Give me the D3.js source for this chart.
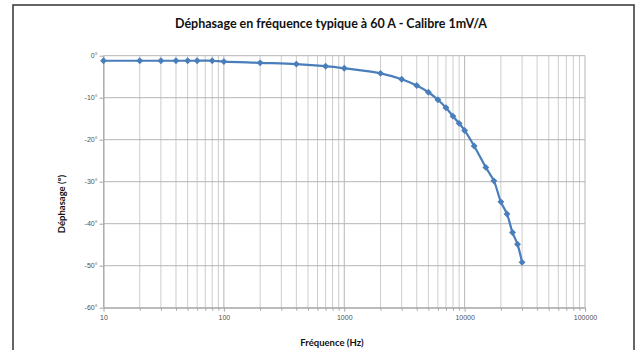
<!DOCTYPE html>
<html lang="fr">
<head>
<meta charset="utf-8">
<title>Déphasage en fréquence typique à 60 A</title>
<script src="https://cdn.jsdelivr.net/npm/d3@7"></script>
<style>
  body { margin: 0; background: #fff; }
  svg { display: block; font-family: Lato, "Open Sans", sans-serif; }
  .axis path { stroke: #a6a6a6; }
  .axis line { stroke: #a6a6a6; }
  .axis text { fill: #505050; font-size: 7px; }
</style>
</head>
<body>
<svg width="641" height="350"></svg>
<script>
// measured points (Hz, degrees)
var freqs = [10, 20, 30, 40, 50, 60, 80, 100, 200, 400, 700, 1000, 2000, 3000, 4000, 5000,
             6000, 7000, 8000, 9000, 10000, 12000, 15000, 17500, 20000, 22500, 25000, 27500, 30000];
var phase = [-1.2, -1.2, -1.2, -1.2, -1.2, -1.2, -1.2, -1.4, -1.7, -2.0, -2.5, -3.0, -4.2, -5.6, -7.1, -8.7,
             -10.5, -12.4, -14.4, -16.1, -17.8, -21.5, -26.6, -29.8, -34.8, -37.7, -42.1, -44.9, -49.2];
var xMajor = [10, 100, 1000, 10000, 100000];
var yTicks = [0, -10, -20, -30, -40, -50, -60];

var lineColor = "#4a7ebb";

var svg = d3.select("svg"),
    plot = {left: 103.5, right: 585, top: 55.7, bottom: 307.7};

var data = freqs.map(function(f, i) { return {f: f, p: phase[i]}; });

var x = d3.scaleLog().domain([10, 100000]).range([plot.left, plot.right]);
var y = d3.scaleLinear().domain([-60, 0]).range([plot.bottom, plot.top]);

// every 1..9 x decade for the log grid
var xMinor = [];
xMajor.slice(0, -1).forEach(function(d) {
  for (var k = 2; k <= 9; k++) xMinor.push(d * k);
});

// outer frame
svg.append("rect")
  .attr("x", 13).attr("y", 5)
  .attr("width", 621).attr("height", 370)
  .attr("fill", "#fff")
  .attr("stroke", "#333")
  .attr("stroke-width", 1.5);

// grid
var grid = svg.append("g");
grid.selectAll(".vmin").data(xMinor).enter().append("line")
  .attr("x1", function(d) { return x(d); }).attr("x2", function(d) { return x(d); })
  .attr("y1", plot.top).attr("y2", plot.bottom)
  .attr("stroke", "#cdcdcd").attr("stroke-width", 1);
grid.selectAll(".vmaj").data(xMajor).enter().append("line")
  .attr("x1", function(d) { return x(d); }).attr("x2", function(d) { return x(d); })
  .attr("y1", plot.top).attr("y2", plot.bottom)
  .attr("stroke", "#b5b5b5").attr("stroke-width", 1);
grid.selectAll(".h").data(yTicks).enter().append("line")
  .attr("x1", plot.left).attr("x2", plot.right)
  .attr("y1", function(d) { return y(d); }).attr("y2", function(d) { return y(d); })
  .attr("stroke", "#b5b5b5").attr("stroke-width", 1);

// axes
svg.append("g")
  .attr("class", "axis")
  .attr("transform", "translate(" + plot.left + ",0)")
  .call(d3.axisLeft(y).tickValues(yTicks).tickSize(4).tickSizeOuter(0)
    .tickFormat(function(d) { return d + "°"; }))
  .call(function(g) { g.selectAll("text").attr("x", -6); });

svg.append("g")
  .attr("class", "axis")
  .attr("transform", "translate(0," + plot.bottom + ")")
  .call(d3.axisBottom(x).tickValues(xMajor).tickSize(4).tickSizeOuter(0)
    .tickFormat(d3.format("d")))
  .call(function(g) { g.selectAll("text").attr("y", 7); });

svg.append("g")
  .attr("class", "axis")
  .attr("transform", "translate(0," + plot.bottom + ")")
  .call(d3.axisBottom(x).tickValues(xMinor).tickSize(3).tickFormat(""))
  .call(function(g) { g.select(".domain").remove(); });

// curve
var line = d3.line()
  .curve(d3.curveCatmullRom.alpha(0.5))
  .x(function(d) { return x(d.f); })
  .y(function(d) { return y(d.p); });

svg.append("path")
  .datum(data)
  .attr("d", line)
  .attr("fill", "none")
  .attr("stroke", lineColor)
  .attr("stroke-width", 2.2);

svg.selectAll(".pt").data(data).enter().append("path")
  .attr("transform", function(d) { return "translate(" + x(d.f) + "," + y(d.p) + ")"; })
  .attr("d", d3.symbol().type(d3.symbolDiamond2).size(30))
  .attr("fill", lineColor);

// titles
svg.append("text")
  .attr("x", 331).attr("y", 28)
  .attr("text-anchor", "middle")
  .style("font-size", "12.5px").style("font-weight", "bold").style("fill", "#111")
  .text("Déphasage en fréquence typique à 60 A - Calibre 1mV/A");

svg.append("text")
  .attr("x", 332).attr("y", 346)
  .attr("text-anchor", "middle")
  .style("font-size", "9.5px").style("font-weight", "bold").style("fill", "#111")
  .text("Fréquence (Hz)");

svg.append("text")
  .attr("transform", "translate(65,204) rotate(-90)")
  .attr("text-anchor", "middle")
  .style("font-size", "9.5px").style("font-weight", "bold").style("fill", "#111")
  .text("Déphasage (°)");
</script>
</body>
</html>
